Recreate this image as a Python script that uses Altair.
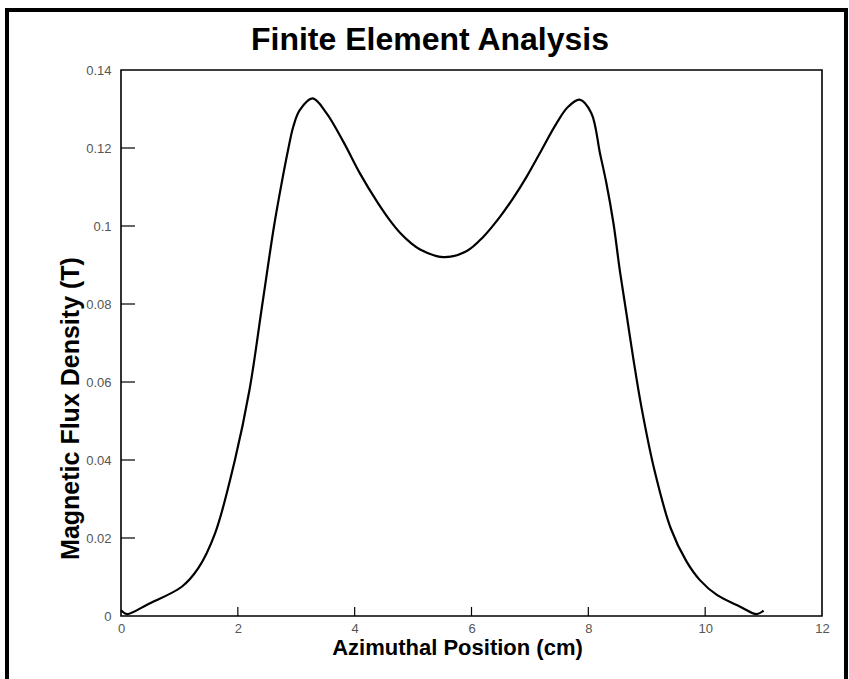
import altair as alt
import pandas as pd

# Flux density profile along the azimuthal direction
position_cm = [0.0, 0.1, 0.47, 1.04, 1.32, 1.61, 1.95, 2.2, 2.42, 2.62, 2.75,
               2.86, 2.95, 3.06, 3.28, 3.52, 3.81, 4.09, 4.38, 4.60, 4.78,
               4.95, 5.12, 5.52, 5.92, 6.20, 6.49, 6.72, 6.95, 7.20, 7.45,
               7.65, 7.85, 8.05, 8.20, 8.31, 8.43, 8.54, 8.66, 8.77, 8.91,
               9.13, 9.41, 9.68, 9.91, 10.2, 10.6, 10.88, 11.0]
flux_T = [0.0015, 0.0005, 0.0031, 0.0075, 0.0122, 0.0212, 0.0400, 0.0580,
          0.0800, 0.1000, 0.1110, 0.1195, 0.1255, 0.1297, 0.1327, 0.1289,
          0.1215, 0.1135, 0.1063, 0.1015, 0.0982, 0.0958, 0.0940, 0.0920,
          0.0936, 0.0972, 0.1024, 0.1073, 0.1128, 0.1195, 0.1262, 0.1305,
          0.1324, 0.1290, 0.1186, 0.1109, 0.1007, 0.0885, 0.0768, 0.0660,
          0.0535, 0.0375, 0.0225, 0.0140, 0.0092, 0.0054, 0.0024, 0.0005,
          0.0014]

x_ticks = [0, 2, 4, 6, 8, 10, 12]
y_ticks = [0, 0.02, 0.04, 0.06, 0.08, 0.10, 0.12, 0.14]
x_inner_ticks = [2, 4, 6, 8, 10]
y_inner_ticks = [0.02, 0.04, 0.06, 0.08, 0.10, 0.12]

W, H = 701, 546
LABEL_FONT = "Liberation Sans Narrow, Liberation Sans"
BOLD_FONT = "Liberation Sans"

curve = pd.DataFrame({"x": position_cm, "y": flux_T})

x_scale = alt.Scale(domain=[0, 12], nice=False, zero=False)
y_scale = alt.Scale(domain=[0, 0.14], nice=False, zero=False)

x_axis = alt.Axis(values=x_ticks, grid=False, domain=False, ticks=False,
                  labelExpr="format(datum.value, 'd')",
                  labelFont=LABEL_FONT, labelFontSize=13, labelColor="#555555",
                  labelPadding=6, labelFlush=False,
                  title="Azimuthal Position (cm)", titleFont=BOLD_FONT,
                  titleFontSize=22, titleFontWeight="bold", titleColor="black",
                  titleX=336, titleY=38, titleBaseline="alphabetic",
                  titleAnchor="middle")
y_axis = alt.Axis(values=y_ticks, grid=False, domain=False, ticks=False,
                  labelExpr="datum.value == 0 ? '0' : format(datum.value, '.2~f')",
                  labelFont=LABEL_FONT, labelFontSize=13, labelColor="#555555",
                  labelPadding=10, labelFlush=False,
                  title="Magnetic Flux Density (T)", titleFont=BOLD_FONT,
                  titleFontSize=25, titleFontWeight="bold", titleColor="black",
                  titleX=-43, titleY=338, titleBaseline="alphabetic",
                  titleAnchor="middle", titleAngle=270)

line = alt.Chart(curve).mark_line(color="black", strokeWidth=2.2,
                                  interpolate="catmull-rom").encode(
    x=alt.X("x:Q", scale=x_scale, axis=x_axis),
    y=alt.Y("y:Q", scale=y_scale, axis=y_axis),
)

# inward tick marks
xt = alt.Chart(pd.DataFrame({"t": x_inner_ticks})).mark_rule(
    color="black", strokeWidth=1.2).encode(
    x=alt.X("t:Q", scale=x_scale), y=alt.value(H), y2=alt.value(H - 9))
yt = alt.Chart(pd.DataFrame({"t": y_inner_ticks})).mark_rule(
    color="black", strokeWidth=1.2).encode(
    y=alt.Y("t:Q", scale=y_scale), x=alt.value(0), x2=alt.value(14))

# chart heading
heading = alt.Chart(pd.DataFrame({"label": ["Finite Element Analysis"]})).mark_text(
    font=BOLD_FONT, fontSize=32, fontWeight="bold", color="black",
    align="center", baseline="alphabetic").encode(
    text="label:N", x=alt.value(309), y=alt.value(-20))

# outer frame around the figure
frame = alt.Chart(pd.DataFrame({"k": [0]})).mark_rect(
    fill=None, stroke="black", strokeWidth=4, clip=False).encode(
    x=alt.value(-114), x2=alt.value(725), y=alt.value(-60), y2=alt.value(625))

chart = alt.layer(frame, xt, yt, line, heading).properties(
    width=W, height=H,
    autosize=alt.AutoSizeParams(type="none"),
    padding={"left": 121, "top": 70, "right": 27, "bottom": 63},
    background="white",
).configure_view(stroke="black", strokeWidth=1.6)

chart.save("out.html", embed_options={"renderer": "svg", "actions": False})
